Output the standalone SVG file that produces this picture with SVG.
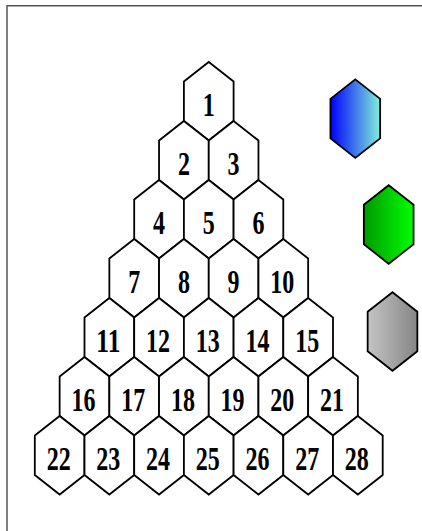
<svg xmlns="http://www.w3.org/2000/svg" xmlns:xlink="http://www.w3.org/1999/xlink" width="422" height="531" viewBox="0 0 422 531">
<style>
.hex{fill:#fff;stroke:#000;stroke-width:1.8;stroke-linejoin:miter}
.lg{stroke:#000;stroke-width:1.8}
.num{font-family:"Liberation Serif","Times New Roman",serif;font-weight:bold;font-size:34px;text-anchor:middle;fill:#000}
.frame{fill:none;stroke:#555;stroke-width:1.5}
</style>
<defs>
<polygon id="hx" points="0,-39.25 24.85,-19.75 24.85,19.75 0,39.25 -24.85,19.75 -24.85,-19.75"/>
<linearGradient id="gBlue" x1="0" y1="0" x2="1" y2="0"><stop offset="0" stop-color="#0000ff"/><stop offset="1" stop-color="#80f0d8"/></linearGradient>
<linearGradient id="gGreen" x1="0" y1="0" x2="1" y2="0"><stop offset="0" stop-color="#009a00"/><stop offset="1" stop-color="#00ff00"/></linearGradient>
<linearGradient id="gGray" x1="0" y1="0" x2="1" y2="0"><stop offset="0" stop-color="#c4c4c4"/><stop offset="1" stop-color="#858585"/></linearGradient>
</defs>
<rect width="422" height="531" fill="#fff"/>
<path class="frame" d="M7,531 V5.75 H422"/>
<g id="connectors"></g>
<g id="n1" transform="translate(208.75,101.25)"><use href="#hx" class="hex"/><text class="num" x="0" y="14.75" textLength="12" lengthAdjust="spacingAndGlyphs">1</text></g>
<g id="n2" transform="translate(183.9,160.25)"><use href="#hx" class="hex"/><text class="num" x="0" y="14.75" textLength="12" lengthAdjust="spacingAndGlyphs">2</text></g>
<g id="n3" transform="translate(233.6,160.25)"><use href="#hx" class="hex"/><text class="num" x="0" y="14.75" textLength="12" lengthAdjust="spacingAndGlyphs">3</text></g>
<g id="n4" transform="translate(159.05,219.25)"><use href="#hx" class="hex"/><text class="num" x="0" y="14.75" textLength="12" lengthAdjust="spacingAndGlyphs">4</text></g>
<g id="n5" transform="translate(208.75,219.25)"><use href="#hx" class="hex"/><text class="num" x="0" y="14.75" textLength="12" lengthAdjust="spacingAndGlyphs">5</text></g>
<g id="n6" transform="translate(258.45,219.25)"><use href="#hx" class="hex"/><text class="num" x="0" y="14.75" textLength="12" lengthAdjust="spacingAndGlyphs">6</text></g>
<g id="n7" transform="translate(134.2,278.25)"><use href="#hx" class="hex"/><text class="num" x="0" y="14.75" textLength="12" lengthAdjust="spacingAndGlyphs">7</text></g>
<g id="n8" transform="translate(183.9,278.25)"><use href="#hx" class="hex"/><text class="num" x="0" y="14.75" textLength="12" lengthAdjust="spacingAndGlyphs">8</text></g>
<g id="n9" transform="translate(233.6,278.25)"><use href="#hx" class="hex"/><text class="num" x="0" y="14.75" textLength="12" lengthAdjust="spacingAndGlyphs">9</text></g>
<g id="n10" transform="translate(283.3,278.25)"><use href="#hx" class="hex"/><text class="num" x="-1" y="14.75" textLength="24" lengthAdjust="spacingAndGlyphs">10</text></g>
<g id="n11" transform="translate(109.35,337.25)"><use href="#hx" class="hex"/><text class="num" x="-1" y="14.75" textLength="24" lengthAdjust="spacingAndGlyphs">11</text></g>
<g id="n12" transform="translate(159.05,337.25)"><use href="#hx" class="hex"/><text class="num" x="-1" y="14.75" textLength="24" lengthAdjust="spacingAndGlyphs">12</text></g>
<g id="n13" transform="translate(208.75,337.25)"><use href="#hx" class="hex"/><text class="num" x="-1" y="14.75" textLength="24" lengthAdjust="spacingAndGlyphs">13</text></g>
<g id="n14" transform="translate(258.45,337.25)"><use href="#hx" class="hex"/><text class="num" x="-1" y="14.75" textLength="24" lengthAdjust="spacingAndGlyphs">14</text></g>
<g id="n15" transform="translate(308.15,337.25)"><use href="#hx" class="hex"/><text class="num" x="-1" y="14.75" textLength="24" lengthAdjust="spacingAndGlyphs">15</text></g>
<g id="n16" transform="translate(84.5,396.25)"><use href="#hx" class="hex"/><text class="num" x="-1" y="14.75" textLength="24" lengthAdjust="spacingAndGlyphs">16</text></g>
<g id="n17" transform="translate(134.2,396.25)"><use href="#hx" class="hex"/><text class="num" x="-1" y="14.75" textLength="24" lengthAdjust="spacingAndGlyphs">17</text></g>
<g id="n18" transform="translate(183.9,396.25)"><use href="#hx" class="hex"/><text class="num" x="-1" y="14.75" textLength="24" lengthAdjust="spacingAndGlyphs">18</text></g>
<g id="n19" transform="translate(233.6,396.25)"><use href="#hx" class="hex"/><text class="num" x="-1" y="14.75" textLength="24" lengthAdjust="spacingAndGlyphs">19</text></g>
<g id="n20" transform="translate(283.3,396.25)"><use href="#hx" class="hex"/><text class="num" x="-1" y="14.75" textLength="24" lengthAdjust="spacingAndGlyphs">20</text></g>
<g id="n21" transform="translate(333,396.25)"><use href="#hx" class="hex"/><text class="num" x="-1" y="14.75" textLength="24" lengthAdjust="spacingAndGlyphs">21</text></g>
<g id="n22" transform="translate(59.65,455.25)"><use href="#hx" class="hex"/><text class="num" x="-1" y="14.75" textLength="24" lengthAdjust="spacingAndGlyphs">22</text></g>
<g id="n23" transform="translate(109.35,455.25)"><use href="#hx" class="hex"/><text class="num" x="-1" y="14.75" textLength="24" lengthAdjust="spacingAndGlyphs">23</text></g>
<g id="n24" transform="translate(159.05,455.25)"><use href="#hx" class="hex"/><text class="num" x="-1" y="14.75" textLength="24" lengthAdjust="spacingAndGlyphs">24</text></g>
<g id="n25" transform="translate(208.75,455.25)"><use href="#hx" class="hex"/><text class="num" x="-1" y="14.75" textLength="24" lengthAdjust="spacingAndGlyphs">25</text></g>
<g id="n26" transform="translate(258.45,455.25)"><use href="#hx" class="hex"/><text class="num" x="-1" y="14.75" textLength="24" lengthAdjust="spacingAndGlyphs">26</text></g>
<g id="n27" transform="translate(308.15,455.25)"><use href="#hx" class="hex"/><text class="num" x="-1" y="14.75" textLength="24" lengthAdjust="spacingAndGlyphs">27</text></g>
<g id="n28" transform="translate(357.85,455.25)"><use href="#hx" class="hex"/><text class="num" x="-1" y="14.75" textLength="24" lengthAdjust="spacingAndGlyphs">28</text></g>
<g id="legend-blue" transform="translate(355.3,118.6)"><use href="#hx" class="lg" fill="url(#gBlue)"/></g>
<g id="legend-green" transform="translate(388.7,224.5)"><use href="#hx" class="lg" fill="url(#gGreen)"/></g>
<g id="legend-gray" transform="translate(392.5,331.5)"><use href="#hx" class="lg" fill="url(#gGray)"/></g>
</svg>
